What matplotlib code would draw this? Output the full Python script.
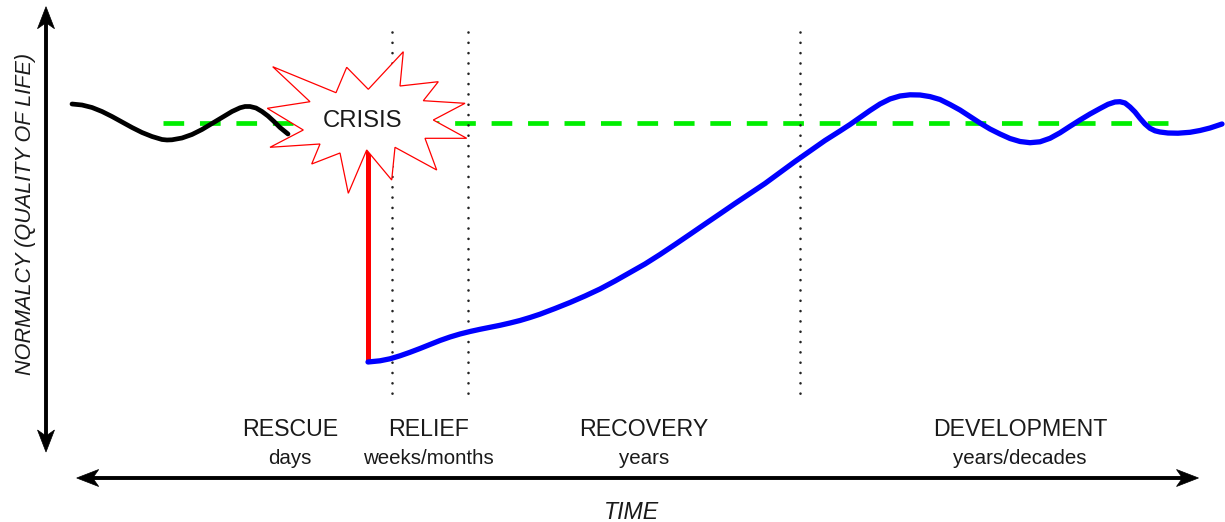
import matplotlib
matplotlib.use('Agg')
import matplotlib.pyplot as plt
from matplotlib.patches import Polygon
import numpy as np

# ---------------- data (chart units: x = time, y = screen-style normalcy axis, inverted) --------------
pre_x = [72, 82, 92, 102, 112, 122, 132, 142, 152, 162, 167, 172, 182, 192, 202, 212, 222, 232,
         240, 245, 250, 256, 262, 268, 274, 280, 288]
pre_y = [104, 105, 107.5, 111.5, 116.5, 122, 127.5, 132.5, 136.5, 139.5, 140, 139.8, 138, 134.5,
         129.5, 123.5, 117.5, 111.5, 107.8, 106.5, 106.5, 108, 111.5, 116, 121.5, 127.5, 134]

drop_x = [368, 368]
drop_y = [150, 362]

rec_x = [368, 380, 390, 400, 410, 420, 430, 440, 450, 460, 470, 480, 490, 500, 510, 520, 530, 540,
         555, 570, 585, 600, 615, 630, 645, 660, 675, 690, 705, 720, 735, 750, 765, 780, 795, 810,
         825, 840, 850, 860, 870, 880, 890, 900, 910, 920, 930, 940, 950, 960, 970, 980, 990, 1000,
         1010, 1020, 1030, 1040, 1050, 1060, 1070, 1080, 1090, 1100, 1108, 1115, 1120, 1125, 1130,
         1135, 1140, 1145, 1150, 1155, 1160, 1168, 1178, 1190, 1200, 1210, 1222]
rec_y = [362, 360.8, 358.8, 355.8, 352.3, 348.5, 344.5, 340.5, 337, 334, 331.5, 329.3, 327.3, 325.3,
         323, 320.5, 317.5, 314.2, 308.5, 302.5, 296, 289, 281, 272.5, 264, 254.5, 244.5, 234.3, 224,
         213.8, 203.5, 193.5, 183.5, 172.5, 161.5, 151, 140.5, 131, 124.5, 117.5, 110.5, 104, 99, 96,
         94.8, 95, 96.6, 99.5, 104.5, 110, 116.5, 123, 129, 134, 138.5, 141.5, 142.7, 141.8, 138.3,
         132.8, 126.3, 120, 114, 108.5, 104.3, 102, 101.7, 103, 107, 112, 118.3, 124, 128.3, 130.8,
         132, 133, 133.2, 132.3, 130.5, 128, 124]

baseline_x = [163, 1168]
baseline_y = [122.7, 122.7]

phase_bounds = [391.5, 468, 800]
phase_top, phase_bottom = 31.7, 397

phase_names = ["RESCUE", "RELIEF", "RECOVERY", "DEVELOPMENT"]
phase_spans = ["days", "weeks/months", "years", "years/decades"]
phase_centers = [290, 428.5, 644, 1020]

star_x = [272.7, 336, 346.7, 368.3, 403.3, 400, 438.3, 423.3, 465, 433.3, 466.7, 425,
          436.7, 395, 391.7, 366.7, 348.3, 340, 311.7, 320, 270, 303.3, 267.3, 310]
star_y = [66.7, 92.7, 67.3, 89.3, 51.7, 86, 81.7, 100.7, 103.3, 120, 138.3, 138.3,
          170, 147.3, 180, 150, 193.3, 153, 164, 144, 147.3, 130, 108.3, 101.7]

# ---------------- figure ----------------
W, H = 1225, 522
fig = plt.figure(figsize=(12.25, 5.22), dpi=100)
ax = fig.add_axes([0, 0, 1, 1])
ax.set_xlim(0, W)
ax.set_ylim(H, 0)
ax.axis('off')

FONT = 'Liberation Sans'
TXT = '#1a1a1a'

def arrowhead(tip, direction, length=22, width=17, notch=6):
    tip = np.array(tip, float)
    d = np.array(direction, float)
    d /= np.linalg.norm(d)
    n = np.array([-d[1], d[0]])
    pts = [tip,
           tip - length * d + width / 2 * n,
           tip - (length - notch) * d,
           tip - length * d - width / 2 * n]
    ax.add_patch(Polygon(pts, closed=True, facecolor='black', edgecolor='black', lw=0.5, zorder=6))

# axes arrows
ax.plot([46, 46], [20, 440], color='black', lw=2.8, solid_capstyle='butt', zorder=6)
arrowhead((46, 6.7), (0, -1))
arrowhead((46, 452), (0, 1))
ax.plot([90, 1186], [478, 478], color='black', lw=2.8, solid_capstyle='butt', zorder=6)
arrowhead((76.7, 478), (-1, 0))
arrowhead((1198.5, 478), (1, 0))

# baseline (green dashed)
ax.plot(baseline_x, baseline_y, color='#00ee00', lw=3.4, linestyle=(0, (4.38, 3.34)),
        dash_capstyle='butt', zorder=2)

# phase boundaries (dotted)
for xb in phase_bounds:
    ax.plot([xb, xb], [phase_top, phase_bottom], color='#222222', lw=1.9,
            linestyle=(0, (0.01, 3.9)), dash_capstyle='round', zorder=3)

# pre-crisis curve
ax.plot(pre_x, pre_y, color='black', lw=3.4, solid_capstyle='round', solid_joinstyle='round', zorder=3)

# crisis star
ax.add_patch(Polygon(np.column_stack([star_x, star_y]), closed=True, facecolor='white',
                     edgecolor='#ff0000', lw=0.9, zorder=5))
ax.text(363, 127.3, "CRISIS", ha='center', va='baseline', fontsize=17.2, family=FONT,
        color=TXT, zorder=7)

# drop and recovery
ax.plot(drop_x, drop_y, color='#ff0000', lw=3.6, solid_capstyle='butt', zorder=4)
ax.plot(rec_x, rec_y, color='#0000ff', lw=3.8, solid_capstyle='round', solid_joinstyle='round', zorder=4)

# phase labels
for name, span, cx in zip(phase_names, phase_spans, phase_centers):
    ax.text(cx, 436, name, ha='center', va='baseline', fontsize=16.7, family=FONT, color=TXT)
    ax.text(cx, 464.5, span, ha='center', va='baseline', fontsize=14.8, family=FONT, color=TXT)

# axis titles
ax.text(631, 519, "TIME", ha='center', va='baseline', fontsize=16.7, family=FONT,
        style='italic', color=TXT)
ax.text(31, 214, "NORMALCY (QUALITY OF LIFE)", ha='center', va='baseline', rotation=90,
        rotation_mode='anchor', fontsize=15.6, family=FONT, style='italic', color=TXT)

fig.savefig('out.png', dpi=100, facecolor='white')
